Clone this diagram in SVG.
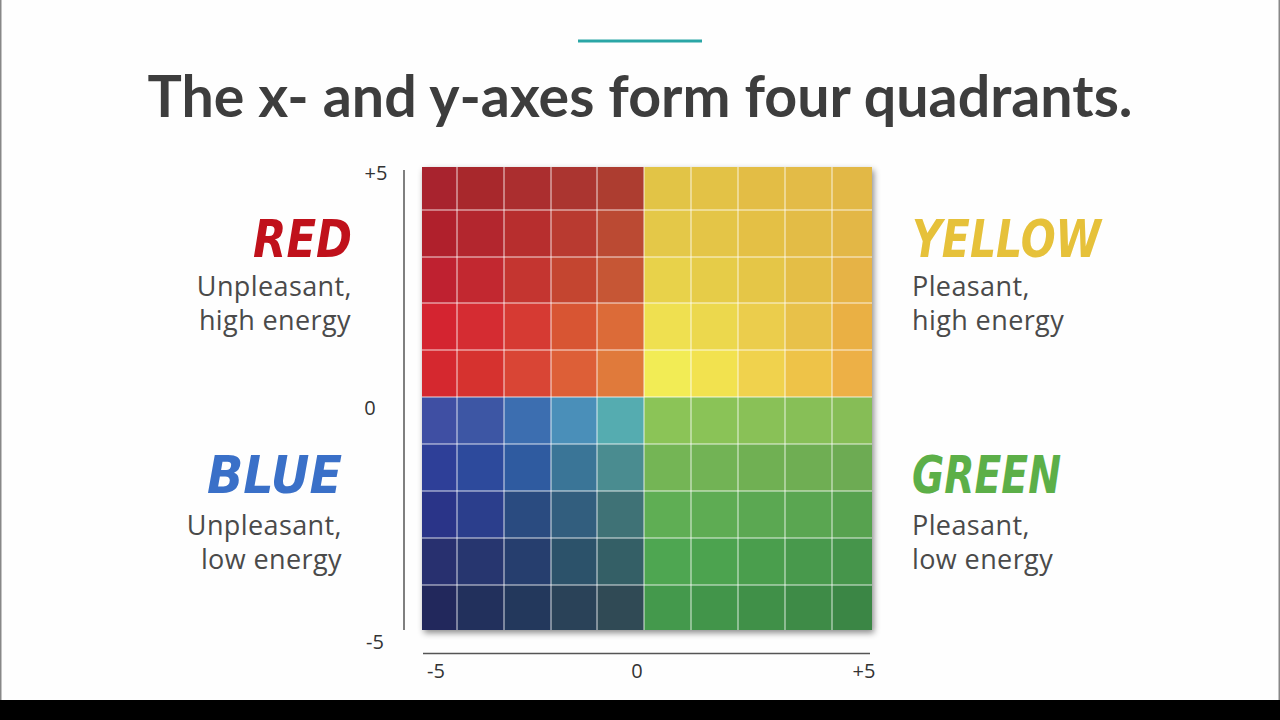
<svg xmlns="http://www.w3.org/2000/svg" width="1280" height="720" viewBox="0 0 1280 720">
<defs>
<filter id="sh" x="-5%" y="-5%" width="115%" height="115%">
<feDropShadow dx="2" dy="3" stdDeviation="3" flood-color="#000" flood-opacity="0.45"/>
</filter>
</defs>
<style>
.t{font-family:"Open Sans","Liberation Sans",sans-serif;font-size:27px;letter-spacing:0.4px;fill:#4a4a4a}
.ax{font-family:"Open Sans","Liberation Sans",sans-serif;font-size:20px;fill:#333}
.hw{font-family:"DejaVu Sans Condensed","DejaVu Sans",sans-serif;font-weight:bold;font-style:italic;font-size:52px}
.gl{stroke:#ffffff;stroke-opacity:0.55;stroke-width:1.5}
.axl{stroke:#555;stroke-width:1.5}
</style>
<rect x="0" y="0" width="1280" height="720" fill="#fefefe"/>
<rect x="0" y="0" width="1.5" height="700" fill="#888"/>
<rect x="1278.5" y="0" width="1.5" height="700" fill="#888"/>
<rect x="0" y="700" width="1280" height="20" fill="#000"/>

<g id="title">
<rect x="578" y="39.5" width="124" height="3" fill="#2aa6a6"/>
<text x="640" y="117" text-anchor="middle" font-family="Lato,'Liberation Sans',sans-serif" font-weight="700" font-size="57" fill="#3d3d3d" textLength="985" lengthAdjust="spacingAndGlyphs">The x- and y-axes form four quadrants.</text>
</g>

<g id="grid">
<rect x="422" y="167" width="450" height="463" fill="#555" filter="url(#sh)"/>
<g id="red-quadrant">
<rect x="422" y="167" width="35" height="43" fill="#a8232e"/><rect x="457" y="167" width="47" height="43" fill="#a8282c"/><rect x="504" y="167" width="47" height="43" fill="#ab2e2f"/><rect x="551" y="167" width="46" height="43" fill="#ab3530"/><rect x="597" y="167" width="47" height="43" fill="#ad3d30"/>
<rect x="422" y="210" width="35" height="47" fill="#b0202c"/><rect x="457" y="210" width="47" height="47" fill="#b3262e"/><rect x="504" y="210" width="47" height="47" fill="#b72e2e"/><rect x="551" y="210" width="46" height="47" fill="#b93a30"/><rect x="597" y="210" width="47" height="47" fill="#bb4a33"/>
<rect x="422" y="257" width="35" height="46" fill="#bf2130"/><rect x="457" y="257" width="47" height="46" fill="#c22830"/><rect x="504" y="257" width="47" height="46" fill="#c43530"/><rect x="551" y="257" width="46" height="46" fill="#c44530"/><rect x="597" y="257" width="47" height="46" fill="#c65635"/>
<rect x="422" y="303" width="35" height="47" fill="#d42430"/><rect x="457" y="303" width="47" height="47" fill="#d52c32"/><rect x="504" y="303" width="47" height="47" fill="#d63a33"/><rect x="551" y="303" width="46" height="47" fill="#d85533"/><rect x="597" y="303" width="47" height="47" fill="#dc6b38"/>
<rect x="422" y="350" width="35" height="47" fill="#d5282f"/><rect x="457" y="350" width="47" height="47" fill="#d6322f"/><rect x="504" y="350" width="47" height="47" fill="#d94535"/><rect x="551" y="350" width="46" height="47" fill="#dd5f37"/><rect x="597" y="350" width="47" height="47" fill="#e07a3b"/>
</g>
<g id="yellow-quadrant">
<rect x="644" y="167" width="47" height="43" fill="#e2c446"/><rect x="691" y="167" width="47" height="43" fill="#e3c246"/><rect x="738" y="167" width="47" height="43" fill="#e3bd45"/><rect x="785" y="167" width="47" height="43" fill="#e3bb47"/><rect x="832" y="167" width="40" height="43" fill="#e2b846"/>
<rect x="644" y="210" width="47" height="47" fill="#e4c848"/><rect x="691" y="210" width="47" height="47" fill="#e4c547"/><rect x="738" y="210" width="47" height="47" fill="#e4c045"/><rect x="785" y="210" width="47" height="47" fill="#e3bc46"/><rect x="832" y="210" width="40" height="47" fill="#e3b746"/>
<rect x="644" y="257" width="47" height="46" fill="#e8d24a"/><rect x="691" y="257" width="47" height="46" fill="#e6cc48"/><rect x="738" y="257" width="47" height="46" fill="#e5c647"/><rect x="785" y="257" width="47" height="46" fill="#e4be46"/><rect x="832" y="257" width="40" height="46" fill="#e6b346"/>
<rect x="644" y="303" width="47" height="47" fill="#efe050"/><rect x="691" y="303" width="47" height="47" fill="#ecd84d"/><rect x="738" y="303" width="47" height="47" fill="#ebcd4c"/><rect x="785" y="303" width="47" height="47" fill="#e8c149"/><rect x="832" y="303" width="40" height="47" fill="#eab044"/>
<rect x="644" y="350" width="47" height="47" fill="#f2ec55"/><rect x="691" y="350" width="47" height="47" fill="#f2e24f"/><rect x="738" y="350" width="47" height="47" fill="#f0d24d"/><rect x="785" y="350" width="47" height="47" fill="#eec348"/><rect x="832" y="350" width="40" height="47" fill="#edb046"/>
</g>
<g id="blue-quadrant">
<rect x="422" y="397" width="35" height="47" fill="#3f4fa3"/><rect x="457" y="397" width="47" height="47" fill="#3d56a4"/><rect x="504" y="397" width="47" height="47" fill="#3c6eb0"/><rect x="551" y="397" width="46" height="47" fill="#4a8fb9"/><rect x="597" y="397" width="47" height="47" fill="#55acb0"/>
<rect x="422" y="444" width="35" height="47" fill="#2e3f98"/><rect x="457" y="444" width="47" height="47" fill="#2d4a9c"/><rect x="504" y="444" width="47" height="47" fill="#2f5ba0"/><rect x="551" y="444" width="46" height="47" fill="#3a7597"/><rect x="597" y="444" width="47" height="47" fill="#4a8c90"/>
<rect x="422" y="491" width="35" height="47" fill="#2a3488"/><rect x="457" y="491" width="47" height="47" fill="#2b3e8c"/><rect x="504" y="491" width="47" height="47" fill="#2a4b80"/><rect x="551" y="491" width="46" height="47" fill="#325e7e"/><rect x="597" y="491" width="47" height="47" fill="#3f7276"/>
<rect x="422" y="538" width="35" height="47" fill="#28306f"/><rect x="457" y="538" width="47" height="47" fill="#27366f"/><rect x="504" y="538" width="47" height="47" fill="#263e6e"/><rect x="551" y="538" width="46" height="47" fill="#2c526a"/><rect x="597" y="538" width="47" height="47" fill="#345f66"/>
<rect x="422" y="585" width="35" height="45" fill="#22285c"/><rect x="457" y="585" width="47" height="45" fill="#22305c"/><rect x="504" y="585" width="47" height="45" fill="#23385c"/><rect x="551" y="585" width="46" height="45" fill="#2a4258"/><rect x="597" y="585" width="47" height="45" fill="#304a55"/>
</g>
<g id="green-quadrant">
<rect x="644" y="397" width="47" height="47" fill="#8bc457"/><rect x="691" y="397" width="47" height="47" fill="#8ac357"/><rect x="738" y="397" width="47" height="47" fill="#89c157"/><rect x="785" y="397" width="47" height="47" fill="#87bf57"/><rect x="832" y="397" width="40" height="47" fill="#86bd56"/>
<rect x="644" y="444" width="47" height="47" fill="#74b555"/><rect x="691" y="444" width="47" height="47" fill="#72b355"/><rect x="738" y="444" width="47" height="47" fill="#70b053"/><rect x="785" y="444" width="47" height="47" fill="#6fae53"/><rect x="832" y="444" width="40" height="47" fill="#6dab53"/>
<rect x="644" y="491" width="47" height="47" fill="#5fae54"/><rect x="691" y="491" width="47" height="47" fill="#5eac53"/><rect x="738" y="491" width="47" height="47" fill="#5ba852"/><rect x="785" y="491" width="47" height="47" fill="#5aa651"/><rect x="832" y="491" width="40" height="47" fill="#57a24f"/>
<rect x="644" y="538" width="47" height="47" fill="#4ea651"/><rect x="691" y="538" width="47" height="47" fill="#4ca34f"/><rect x="738" y="538" width="47" height="47" fill="#4a9e4d"/><rect x="785" y="538" width="47" height="47" fill="#48994c"/><rect x="832" y="538" width="40" height="47" fill="#46954b"/>
<rect x="644" y="585" width="47" height="45" fill="#44994c"/><rect x="691" y="585" width="47" height="45" fill="#42954a"/><rect x="738" y="585" width="47" height="45" fill="#409048"/><rect x="785" y="585" width="47" height="45" fill="#3e8b47"/><rect x="832" y="585" width="40" height="45" fill="#3b8645"/>
</g>
<g id="grid-lines">
<path class="gl" d="M457 167V630M504 167V630M551 167V630M597 167V630M644 167V630M691 167V630M738 167V630M785 167V630M832 167V630"/>
<path class="gl" d="M422 210H872M422 257H872M422 303H872M422 350H872M422 397H872M422 444H872M422 491H872M422 538H872M422 585H872"/>
</g>
</g>

<g id="axes">
<line class="axl" x1="404" y1="170" x2="404" y2="630"/>
<line class="axl" x1="423" y1="653.5" x2="870" y2="653.5"/>
<text class="ax" x="376" y="180" text-anchor="middle">+5</text>
<text class="ax" x="370" y="415" text-anchor="middle">0</text>
<text class="ax" x="375" y="649" text-anchor="middle">-5</text>
<text class="ax" x="436" y="678" text-anchor="middle">-5</text>
<text class="ax" x="637" y="678" text-anchor="middle">0</text>
<text class="ax" x="864" y="678" text-anchor="middle">+5</text>
</g>

<g id="red-label">
<text class="hw" x="352" y="257" text-anchor="end" fill="#c0111b" textLength="99" lengthAdjust="spacingAndGlyphs">RED</text>
<text class="t" x="352" y="296" text-anchor="end">Unpleasant,</text>
<text class="t" x="351" y="330" text-anchor="end">high energy</text>
</g>
<g id="yellow-label">
<text class="hw" x="912" y="257" fill="#e6c13a" textLength="189" lengthAdjust="spacingAndGlyphs">YELLOW</text>
<text class="t" x="912" y="296">Pleasant,</text>
<text class="t" x="912" y="330">high energy</text>
</g>
<g id="blue-label">
<text class="hw" x="342" y="493" text-anchor="end" fill="#3a70c8" textLength="135" lengthAdjust="spacingAndGlyphs">BLUE</text>
<text class="t" x="342" y="535" text-anchor="end">Unpleasant,</text>
<text class="t" x="342" y="569" text-anchor="end">low energy</text>
</g>
<g id="green-label">
<text class="hw" x="912" y="493" fill="#5caf48" textLength="149" lengthAdjust="spacingAndGlyphs">GREEN</text>
<text class="t" x="912" y="535">Pleasant,</text>
<text class="t" x="912" y="569">low energy</text>
</g>
</svg>
